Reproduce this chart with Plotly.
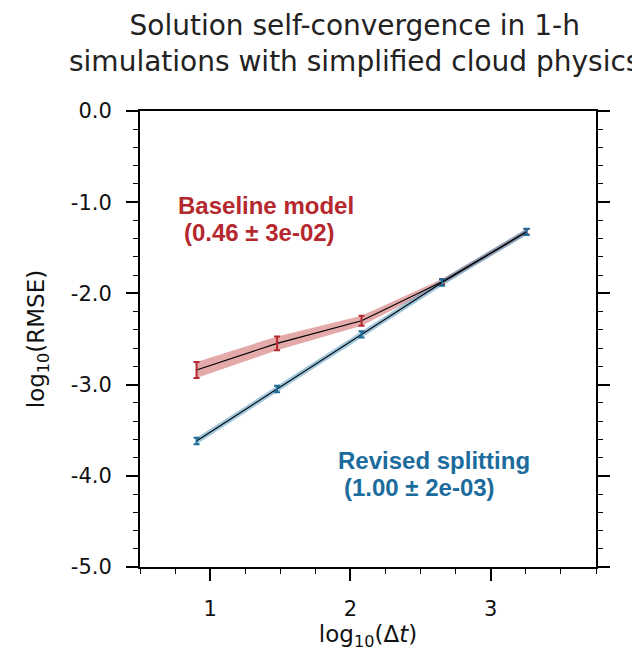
import plotly.graph_objects as go

# Data
log_dt = [0.903, 1.477, 2.079, 2.653, 3.255]
baseline_rmse = [-2.84, -2.548, -2.30, -1.873, -1.325]
baseline_err = [0.088, 0.075, 0.056, 0.03, 0.03]
revised_rmse = [-3.618, -3.048, -2.449, -1.880, -1.325]
revised_err = [0.035, 0.035, 0.035, 0.035, 0.035]

x_ticks = [1, 2, 3]
x_ticktext = ["1", "2", "3"]
y_ticks = [0, -1, -2, -3, -4, -5]
y_ticktext = ["0.0", "-1.0", "-2.0", "-3.0", "-4.0", "-5.0"]

red = "#b5282d"
blue = "#1b6c9c"
red_band = "rgba(190,50,50,0.42)"
blue_band = "rgba(60,140,185,0.5)"

fig = go.Figure()

for y, e, band in [(baseline_rmse, baseline_err, red_band), (revised_rmse, revised_err, blue_band)]:
    up = [a + b for a, b in zip(y, e)]
    lo = [a - b for a, b in zip(y, e)]
    fig.add_trace(go.Scatter(x=log_dt + log_dt[::-1], y=up + lo[::-1], fill="toself",
                             fillcolor=band, line=dict(width=0), mode="lines",
                             hoverinfo="skip", showlegend=False))

for y, e, col in [(baseline_rmse, baseline_err, red), (revised_rmse, revised_err, blue)]:
    fig.add_trace(go.Scatter(x=log_dt, y=y, mode="lines", line=dict(color="black", width=1.1),
                             showlegend=False))
    fig.add_trace(go.Scatter(x=log_dt, y=y, mode="markers", marker=dict(size=0.1, color=col),
                             error_y=dict(type="data", array=e, color=col, thickness=2, width=3),
                             showlegend=False))

sans = "DejaVu Sans, Verdana, sans-serif"
bold = "Liberation Sans, Arial, sans-serif"

fig.add_annotation(x=0.757, y=-1.033, xref="x", yref="y", text="<b>Baseline model</b>",
                   showarrow=False, xanchor="left", font=dict(size=24, color=red, family=bold))
fig.add_annotation(x=0.797, y=-1.336, xref="x", yref="y", text="<b>(0.46 ± 3e-02)</b>",
                   showarrow=False, xanchor="left", font=dict(size=24, color=red, family=bold))
fig.add_annotation(x=1.897, y=-3.837, xref="x", yref="y", text="<b>Revised splitting</b>",
                   showarrow=False, xanchor="left", font=dict(size=24, color=blue, family=bold))
fig.add_annotation(x=1.938, y=-4.125, xref="x", yref="y", text="<b>(1.00 ± 2e-03)</b>",
                   showarrow=False, xanchor="left", font=dict(size=24, color=blue, family=bold))

fig.add_annotation(x=0.47, y=1.147, xref="paper", yref="paper",
                   text="Solution self-convergence in 1-h<br>simulations with simplified cloud physics",
                   showarrow=False, xanchor="center", yanchor="middle",
                   font=dict(size=28, color="#222", family=sans))

fig.update_layout(
    width=632, height=650,
    margin=dict(l=132, r=44, t=103, b=91),
    paper_bgcolor="white", plot_bgcolor="white",
    font=dict(family=sans, color="#111", size=21),
    xaxis=dict(range=[0.5, 3.75], tickmode="array", tickvals=x_ticks, ticktext=x_ticktext,
               ticks="outside", ticklen=12, tickwidth=1.5, tickcolor="black",
               showline=True, linecolor="black", linewidth=2, mirror=True,
               showgrid=False, zeroline=False, ticklabelstandoff=10,
               minor=dict(dtick=0.25, tick0=0.5, ticks="outside", ticklen=5, tickwidth=1.2,
                          tickcolor="black", showgrid=False),
               title=dict(text="log<sub>10</sub>(Δ<i>t</i>)", standoff=6, font=dict(size=23))),
    yaxis=dict(range=[-5, 0], tickmode="array", tickvals=y_ticks, ticktext=y_ticktext,
               ticks="outside", ticklen=12, tickwidth=1.5, tickcolor="black",
               showline=True, linecolor="black", linewidth=2, mirror="allticks",
               showgrid=False, zeroline=False, ticklabelstandoff=10,
               minor=dict(dtick=0.2, tick0=0, ticks="outside", ticklen=5, tickwidth=1.2,
                          tickcolor="black", showgrid=False),
               title=dict(text="log<sub>10</sub>(RMSE)", standoff=20, font=dict(size=23))),
)

fig.write_html("out.html")
